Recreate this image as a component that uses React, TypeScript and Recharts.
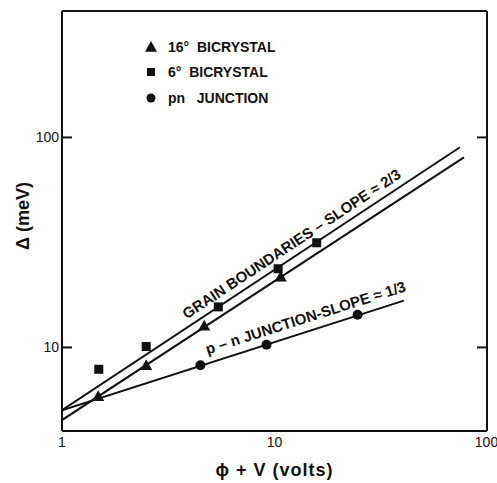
import React from 'react';
import {
  ScatterChart,
  Scatter,
  XAxis,
  YAxis,
  ReferenceDot,
  Legend,
  Label,
} from 'recharts';

const bicrystal16 = [
  { x: 1.48, y: 5.86 },
  { x: 2.49, y: 8.22 },
  { x: 4.67, y: 12.7 },
  { x: 10.7, y: 21.7 },
];
const bicrystal6 = [
  { x: 1.49, y: 7.87 },
  { x: 2.49, y: 10.1 },
  { x: 5.44, y: 15.6 },
  { x: 10.4, y: 23.7 },
  { x: 15.8, y: 31.5 },
];
const pnJunction = [
  { x: 4.48, y: 8.22 },
  { x: 9.17, y: 10.3 },
  { x: 24.6, y: 14.3 },
];

// fitted straight lines, end points
const fit6 = [
  { x: 1, y: 5.02 },
  { x: 74.6, y: 89.8 },
];
const fit16 = [
  { x: 1, y: 4.51 },
  { x: 77.9, y: 80.4 },
];
const fitPn = [
  { x: 1, y: 5.02 },
  { x: 40.6, y: 16.7 },
];

const xTicks = [1, 10, 100];
const yTicks = [10, 100];
const xInnerTicks = [10];

const FONT = '"Liberation Sans", Arial, sans-serif';
const INK = '#111';

const Tri = ({ cx, cy, s = 6 }: any) => (
  <polygon
    points={`${cx},${cy - s} ${cx - s},${cy + s * 0.8} ${cx + s},${cy + s * 0.8}`}
    fill={INK}
  />
);
const Sq = ({ cx, cy, s = 4.5 }: any) => (
  <rect x={cx - s} y={cy - s} width={s * 2} height={s * 2} fill={INK} />
);
const Dot = ({ cx, cy, r = 5 }: any) => <circle cx={cx} cy={cy} r={r} fill={INK} />;
const NoShape = () => <g />;
const NoTick = () => <g />;

const AnnoLabel = ({ viewBox, text, rot }: any) => {
  const { x, y } = viewBox;
  return (
    <text
      x={x}
      y={y}
      transform={`rotate(${rot} ${x} ${y})`}
      textAnchor="middle"
      dominantBaseline="central"
      fontFamily={FONT}
      fontWeight="bold"
      fontSize={15}
      fill={INK}
    >
      {text}
    </text>
  );
};

const YTitle = ({ viewBox }: any) => {
  const cx = viewBox.x + 23;
  const cy = viewBox.y + viewBox.height / 2 - 5;
  return (
    <text
      x={cx}
      y={cy}
      transform={`rotate(-90 ${cx} ${cy})`}
      textAnchor="middle"
      dominantBaseline="central"
      fontFamily={FONT}
      fontWeight="bold"
      fontSize={18}
      fill={INK}
    >
      Δ (meV)
    </text>
  );
};

const legendRows = [
  { icon: 'tri', text: '16°  BICRYSTAL' },
  { icon: 'sq', text: '6°  BICRYSTAL' },
  { icon: 'dot', text: 'pn   JUNCTION' },
];

const LegendBox = () => (
  <div style={{ fontFamily: FONT, fontWeight: 'bold', fontSize: 14, color: INK }}>
    {legendRows.map((r) => (
      <div key={r.text} style={{ display: 'flex', alignItems: 'center', height: 25.5 }}>
        <svg width={18} height={14} style={{ marginRight: 8 }}>
          {r.icon === 'tri' && <Tri cx={9} cy={7} s={6} />}
          {r.icon === 'sq' && <Sq cx={9} cy={7} s={4} />}
          {r.icon === 'dot' && <Dot cx={9} cy={7} r={4.5} />}
        </svg>
        <span style={{ whiteSpace: 'pre' }}>{r.text}</span>
      </div>
    ))}
  </div>
);

const tickStyle = { fontFamily: FONT, fontSize: 14, fill: INK };
const lineStyle = { stroke: INK, strokeWidth: 2 };

export default function App() {
  return (
    <div style={{ position: 'absolute', left: 0, top: 0, background: '#fff' }}>
      <ScatterChart width={497} height={483} margin={{ top: 11, right: 10, left: 0, bottom: 0 }}>
        {/* frame: labelled axes */}
        <XAxis
          xAxisId="x"
          dataKey="x"
          type="number"
          scale="log"
          domain={[1, 100]}
          ticks={xTicks}
          allowDataOverflow
          tickLine={false}
          tickSize={6}
          tickMargin={0}
          axisLine={lineStyle}
          tick={tickStyle}
          height={52}
        >
          <Label
            value="ϕ + V (volts)"
            position="insideBottom"
            offset={7}
            style={{ fontFamily: FONT, fontWeight: 'bold', fontSize: 18, fill: INK, letterSpacing: 1 }}
          />
        </XAxis>
        <YAxis
          yAxisId="y"
          dataKey="y"
          type="number"
          scale="log"
          domain={[4, 400]}
          ticks={yTicks}
          allowDataOverflow
          tickLine={false}
          tickSize={3}
          tickMargin={0}
          axisLine={lineStyle}
          tick={tickStyle}
          width={62}
        >
          <Label content={<YTitle />} />
        </YAxis>
        {/* inward tick marks */}
        <XAxis
          xAxisId="xb"
          type="number"
          scale="log"
          domain={[1, 100]}
          ticks={xInnerTicks}
          allowDataOverflow
          mirror
          orientation="bottom"
          tick={NoTick}
          tickSize={9}
          tickLine={lineStyle}
          axisLine={false}
        />
        <XAxis
          xAxisId="xt"
          type="number"
          scale="log"
          domain={[1, 100]}
          ticks={xInnerTicks}
          allowDataOverflow
          mirror
          orientation="top"
          tick={NoTick}
          tickSize={9}
          tickLine={lineStyle}
          axisLine={lineStyle}
        />
        <YAxis
          yAxisId="yl"
          type="number"
          scale="log"
          domain={[4, 400]}
          ticks={yTicks}
          allowDataOverflow
          mirror
          orientation="left"
          tick={NoTick}
          tickSize={10}
          tickLine={lineStyle}
          axisLine={false}
        />
        <YAxis
          yAxisId="yr"
          type="number"
          scale="log"
          domain={[4, 400]}
          ticks={yTicks}
          allowDataOverflow
          mirror
          orientation="right"
          tick={NoTick}
          tickSize={10}
          tickLine={lineStyle}
          axisLine={lineStyle}
        />

        <Legend
          content={<LegendBox />}
          layout="vertical"
          verticalAlign="middle"
          align="center"
          wrapperStyle={{ position: 'absolute', top: 34, left: 142, width: 'auto', height: 'auto' }}
        />

        {/* fitted lines */}
        <Scatter xAxisId="x" yAxisId="y" data={fit6} line={lineStyle} shape={NoShape} legendType="none" isAnimationActive={false} />
        <Scatter xAxisId="x" yAxisId="y" data={fit16} line={lineStyle} shape={NoShape} legendType="none" isAnimationActive={false} />
        <Scatter xAxisId="x" yAxisId="y" data={fitPn} line={lineStyle} shape={NoShape} legendType="none" isAnimationActive={false} />

        {/* data points */}
        <Scatter xAxisId="x" yAxisId="y" name="16° BICRYSTAL" data={bicrystal16} shape={<Tri s={6} />} isAnimationActive={false} />
        <Scatter xAxisId="x" yAxisId="y" name="6° BICRYSTAL" data={bicrystal6} shape={<Sq s={4.5} />} isAnimationActive={false} />
        <Scatter xAxisId="x" yAxisId="y" name="pn JUNCTION" data={pnJunction} shape={<Dot r={5} />} isAnimationActive={false} />

        {/* slope annotations */}
        <ReferenceDot
          xAxisId="x"
          yAxisId="y"
          x={12.0}
          y={31.2}
          r={0}
          fill="none"
          stroke="none"
          label={<AnnoLabel text="GRAIN BOUNDARIES – SLOPE ≈ 2/3" rot={-33.5} />}
        />
        <ReferenceDot
          xAxisId="x"
          yAxisId="y"
          x={14.0}
          y={13.9}
          r={0}
          fill="none"
          stroke="none"
          label={<AnnoLabel text="p – n  JUNCTION-SLOPE ≈ 1/3" rot={-17.7} />}
        />
      </ScatterChart>
    </div>
  );
}
